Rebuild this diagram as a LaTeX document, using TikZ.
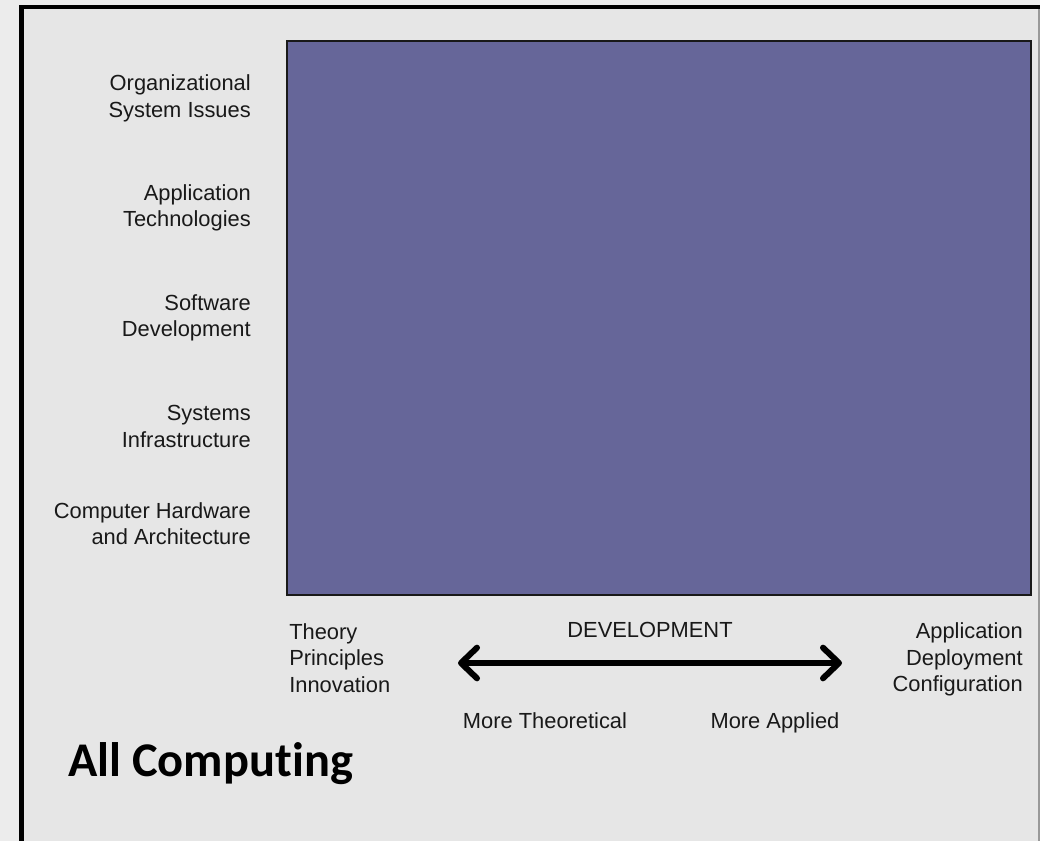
\documentclass[tikz,border=0pt]{standalone}
\usepackage{fontspec}
\setmainfont{Liberation Sans}
\newfontfamily\calibri[Ligatures=NoCommon]{Carlito}
\usetikzlibrary{arrows.meta,positioning}
\definecolor{pagegrey}{HTML}{ECECEC}
\definecolor{panelgrey}{HTML}{E6E6E6}
\definecolor{fieldblue}{HTML}{666699}
\tikzset{
	lbl/.style={font=\fontsize{16.4}{19.8}\selectfont,inner sep=0pt,text=black!90},
	leftlbl/.style={lbl,align=right,anchor=east},
	title/.style={font=\calibri\bfseries\fontsize{36.3}{40}\selectfont,inner sep=0pt,anchor=base west},
	devarrow/.style={line width=4.5pt,{Straight Barb[round,length=12pt,width=23pt]}-{Straight Barb[round,length=12pt,width=23pt]}}
}
\begin{document}
\begin{tikzpicture}[x=0.75pt,y=-0.75pt]
		\useasboundingbox (0,0) rectangle (1040,840);
		\fill[color=pagegrey] (-2,-2) rectangle (1042,842);
		\begin{scope}
			\clip (0,0) rectangle (1040,840);
			% panel
			\fill[color=panelgrey] (21.5,7) rectangle (1039,850);
			\draw[color=black!40,line width=0.8pt] (1039,7) -- (1039,850);
			\draw[line width=3.6pt] (1045,7) -- (21.5,7) -- (21.5,850);
		\end{scope}
		% field of computing
		\draw[fill=fieldblue,draw=black!90,line width=1.5pt] (286.5,40.5) rectangle (1031,594.5);
		\node[leftlbl] (org) at (251,98.5) {Organizational\\System Issues};
		\node[leftlbl] (apptech) at (251,208) {Application\\Technologies};
		\node[leftlbl] (softdev) at (251,318) {Software\\Development};
		\node[leftlbl] (sysinf) at (251,426.5) {Systems\\Infrastructure};
		\node[leftlbl] (hwarch) at (251,523.5) {Computer Hardware\\and Architecture};
		% development axis
		\node[lbl,align=left,anchor=west] (theory) at (289,658) {Theory\\Principles\\Innovation};
		\node[lbl,align=right,anchor=east] (applied) at (1023,659.5) {Application\\Deployment\\Configuration};
		\node[lbl,anchor=base] (dev) at (650,637) {DEVELOPMENT};
		\coordinate (theoend) at (458,663);
		\coordinate (applend) at (842,663);
		\draw[devarrow] (theoend) -- (applend);
		\node[lbl,anchor=base] (moretheo) at (545,728) {More Theoretical};
		\node[lbl,anchor=base] (moreappl) at (775,728) {More Applied};
		\node[title] (allcomp) at (68,776) {All Computing};
	\end{tikzpicture}
\end{document}
